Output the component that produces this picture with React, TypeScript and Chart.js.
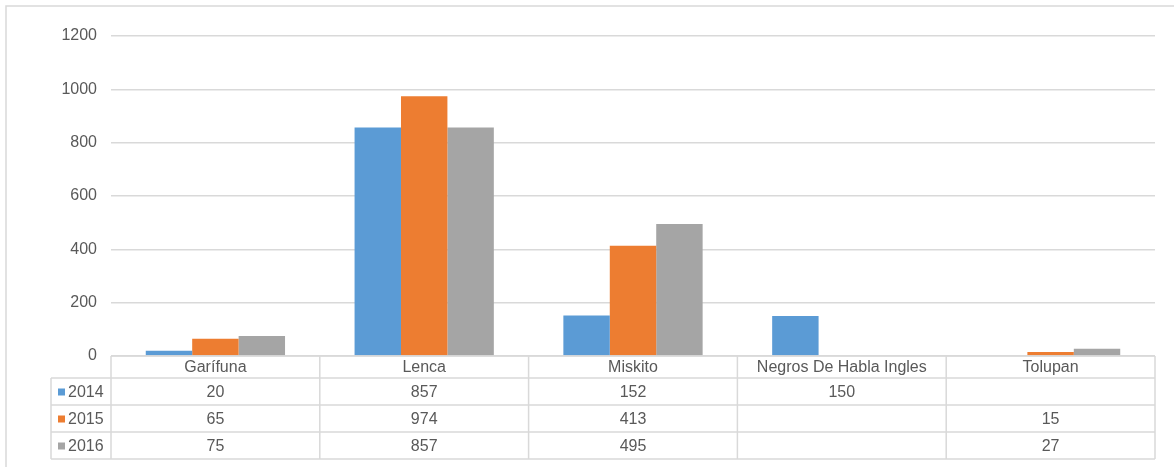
import React, { useEffect, useRef } from "react";
import { Chart, registerables } from "chart.js";

Chart.register(...registerables);

const categories = ["Garífuna", "Lenca", "Miskito", "Negros De Habla Ingles", "Tolupan"];
const seriesLabels = ["2014", "2015", "2016"];
const values2014: (number | null)[] = [20, 857, 152, 150, null];
const values2015: (number | null)[] = [65, 974, 413, null, 15];
const values2016: (number | null)[] = [75, 857, 495, null, 27];
const seriesColors = ["#5B9BD5", "#ED7D31", "#A5A5A5"];
const yTicks = [0, 200, 400, 600, 800, 1000, 1200];

const FONT = "'Liberation Sans', Arial, sans-serif";
const TEXT = "#595959";
const LINE = "#d9d9d9";

const tablePlugin = {
  id: "dataTable",
  afterDraw(chart: any) {
    const ctx = chart.ctx as CanvasRenderingContext2D;
    const x = chart.scales.x;
    const area = chart.chartArea;
    const n = categories.length;
    const colW = (x.right - x.left) / n;
    const legendLeft = 51;
    const headerH = 22;
    const rowH = 27;
    const top = area.bottom;
    const headerBottom = top + headerH;
    const bottom = headerBottom + rowH * seriesLabels.length;
    const allValues = [values2014, values2015, values2016];

    ctx.save();
    ctx.strokeStyle = LINE;
    ctx.lineWidth = 1.5;
    ctx.strokeRect(6, 6, 1200, 500);

    ctx.beginPath();
    ctx.moveTo(x.left, top);
    ctx.lineTo(x.right, top);
    for (let r = 0; r <= seriesLabels.length; r++) {
      const yy = headerBottom + r * rowH;
      ctx.moveTo(legendLeft, yy);
      ctx.lineTo(x.right, yy);
    }
    ctx.moveTo(legendLeft, headerBottom);
    ctx.lineTo(legendLeft, bottom);
    for (let c = 0; c <= n; c++) {
      const xx = x.left + c * colW;
      ctx.moveTo(xx, top);
      ctx.lineTo(xx, bottom);
    }
    ctx.stroke();

    ctx.fillStyle = TEXT;
    ctx.font = `16px ${FONT}`;
    ctx.textAlign = "center";
    ctx.textBaseline = "middle";
    categories.forEach((cat, i) => {
      const cx = x.getPixelForValue(i);
      ctx.fillText(cat, cx, top + headerH / 2 + 1);
    });
    seriesLabels.forEach((lab, r) => {
      const cy = headerBottom + r * rowH + rowH / 2 + 1;
      ctx.fillStyle = seriesColors[r];
      ctx.fillRect(58, cy - 4, 7, 7);
      ctx.fillStyle = TEXT;
      ctx.textAlign = "left";
      ctx.fillText(lab, 68, cy);
      ctx.textAlign = "center";
      allValues[r].forEach((v, i) => {
        if (v === null || v === undefined) return;
        ctx.fillText(String(v), x.getPixelForValue(i), cy);
      });
    });
    ctx.restore();
  },
};

export default function App() {
  const ref = useRef<HTMLCanvasElement>(null);
  useEffect(() => {
    if (!ref.current) return;
    const chart = new Chart(ref.current, {
      type: "bar",
      data: {
        labels: categories,
        datasets: [values2014, values2015, values2016].map((d, i) => ({
          label: seriesLabels[i],
          data: d,
          backgroundColor: seriesColors[i],
          borderWidth: 0,
          categoryPercentage: 0.667,
          barPercentage: 1,
        })),
      },
      options: {
        responsive: false,
        animation: false,
        layout: { padding: { top: 36, right: 19, bottom: 111, left: 0 } },
        plugins: { legend: { display: false }, tooltip: { enabled: false } },
        scales: {
          x: { display: false },
          y: {
            min: 0,
            max: 1200,
            afterFit: (s: any) => {
              s.width = 111;
            },
            afterBuildTicks: (s: any) => {
              s.ticks = yTicks.map((v) => ({ value: v }));
            },
            border: { display: false },
            grid: { color: LINE, lineWidth: 1.5, drawTicks: false },
            ticks: {
              color: TEXT,
              font: { family: FONT, size: 16 },
              padding: 14,
              callback: (v: any) => String(v),
            },
          },
        },
      },
      plugins: [tablePlugin],
    });
    return () => chart.destroy();
  }, []);
  return (
    <div style={{ position: "fixed", left: 0, top: 0, width: 1174, height: 467, background: "#fff" }}>
      <canvas ref={ref} width={1174} height={467} />
    </div>
  );
}
